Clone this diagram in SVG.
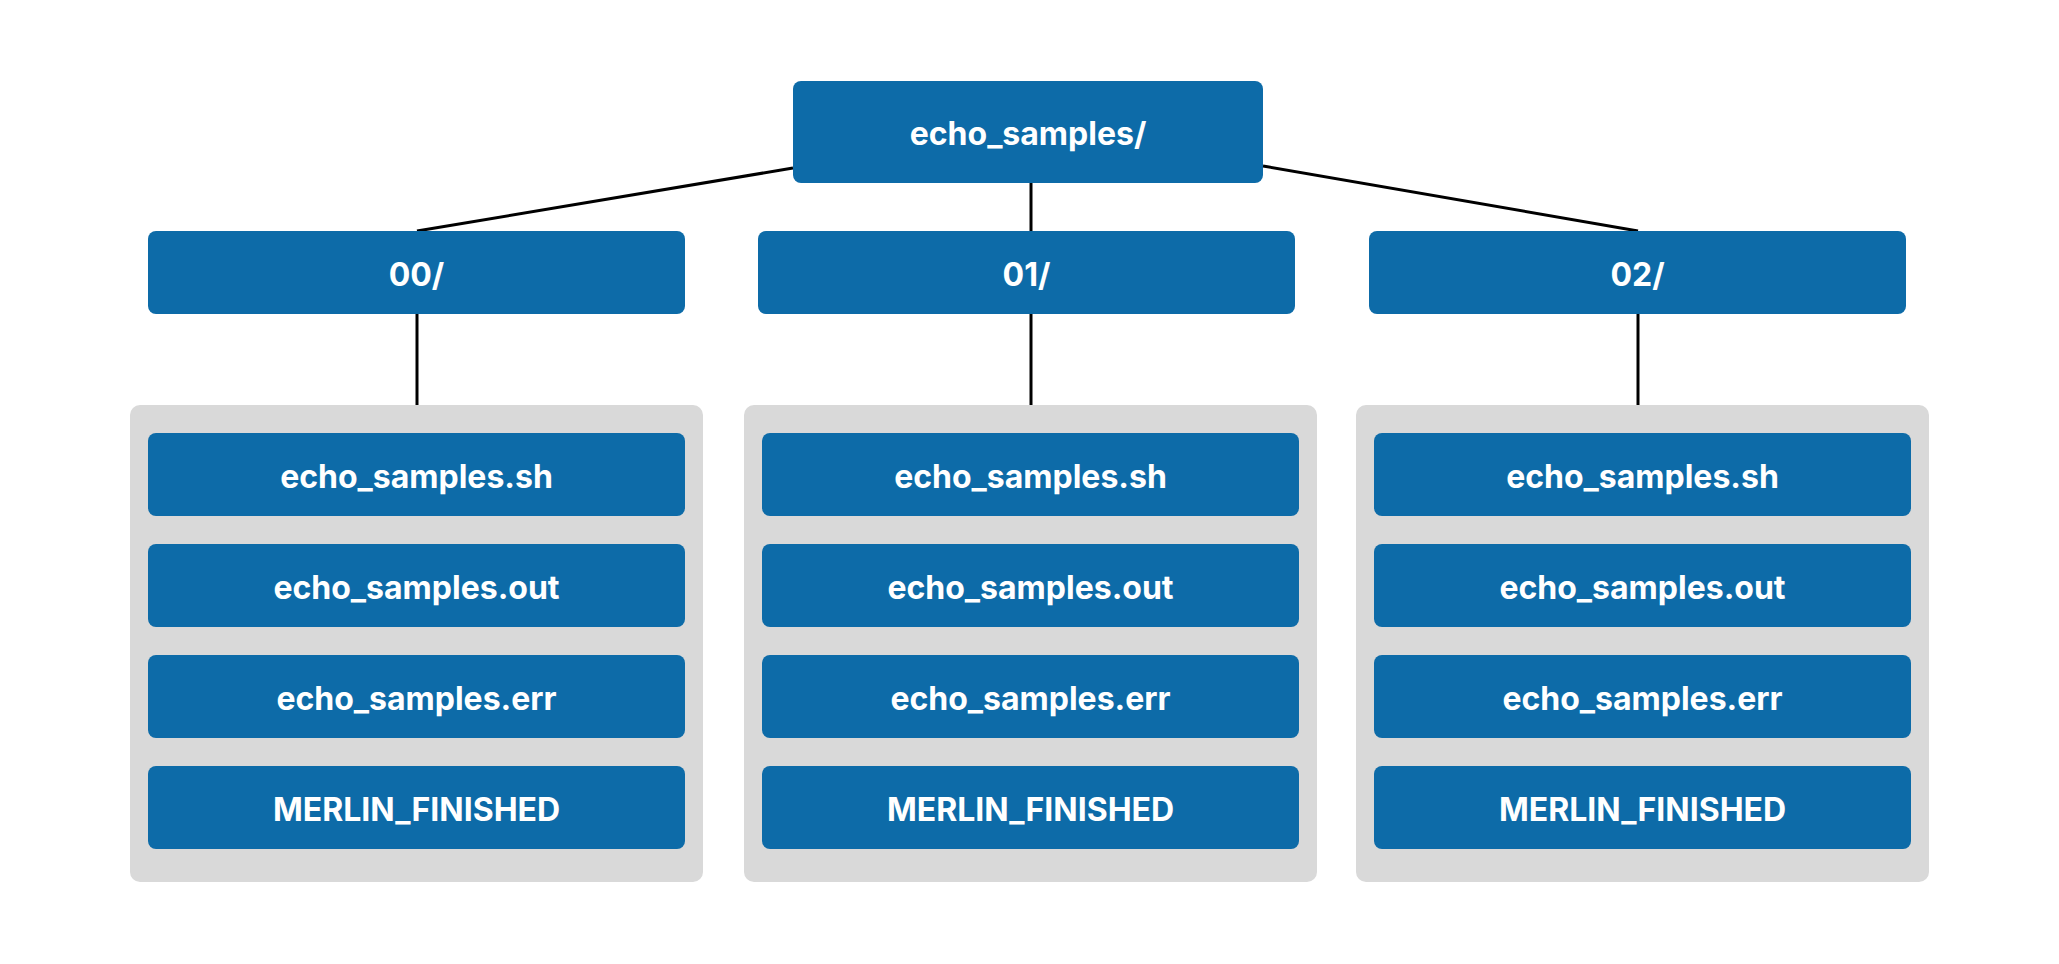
<svg xmlns="http://www.w3.org/2000/svg" width="2059" height="964" viewBox="0 0 2059 964">
<style>
.node{fill:#0D6BA8;}
.grp{fill:#D9D9D9;}
.lbl{fill:#FFFFFF;font-family:Inter,"Liberation Sans",sans-serif;font-weight:700;font-size:32px;text-anchor:middle;dominant-baseline:central;}
.edge{stroke:#000000;stroke-width:3;fill:none;}
</style>
<rect width="2059" height="964" fill="#FFFFFF"/>
<g id="connectors">
<line class="edge" x1="793" y1="168" x2="417" y2="231"/>
<line class="edge" x1="1031" y1="183" x2="1031" y2="231"/>
<line class="edge" x1="1263" y1="166" x2="1638" y2="231"/>
<line class="edge" x1="417" y1="314" x2="417" y2="405"/>
<line class="edge" x1="1031" y1="314" x2="1031" y2="405"/>
<line class="edge" x1="1638" y1="314" x2="1638" y2="405"/>
</g>
<g id="root">
<rect class="node" x="793" y="81" width="470" height="102" rx="8"/>
<text class="lbl" x="1028" y="133.5">echo_samples/</text>
</g>
<g id="dir00">
<rect class="node" x="148" y="231" width="537" height="83" rx="8"/>
<text class="lbl" x="416.5" y="274">00/</text>
</g>
<g id="dir01">
<rect class="node" x="758" y="231" width="537" height="83" rx="8"/>
<text class="lbl" x="1026.5" y="274">01/</text>
</g>
<g id="dir02">
<rect class="node" x="1369" y="231" width="537" height="83" rx="8"/>
<text class="lbl" x="1637.5" y="274">02/</text>
</g>
<g id="group00">
<rect class="grp" x="130" y="405" width="573" height="477" rx="10"/>
<g id="g00-sh"><rect class="node" x="148" y="433" width="537" height="83" rx="8"/><text class="lbl" x="416.5" y="476">echo_samples.sh</text></g>
<g id="g00-out"><rect class="node" x="148" y="544" width="537" height="83" rx="8"/><text class="lbl" x="416.5" y="587">echo_samples.out</text></g>
<g id="g00-err"><rect class="node" x="148" y="655" width="537" height="83" rx="8"/><text class="lbl" x="416.5" y="698">echo_samples.err</text></g>
<g id="g00-fin"><rect class="node" x="148" y="766" width="537" height="83" rx="8"/><text class="lbl" x="416.5" y="809">MERLIN_FINISHED</text></g>
</g>
<g id="group01">
<rect class="grp" x="744" y="405" width="573" height="477" rx="10"/>
<g id="g01-sh"><rect class="node" x="762" y="433" width="537" height="83" rx="8"/><text class="lbl" x="1030.5" y="476">echo_samples.sh</text></g>
<g id="g01-out"><rect class="node" x="762" y="544" width="537" height="83" rx="8"/><text class="lbl" x="1030.5" y="587">echo_samples.out</text></g>
<g id="g01-err"><rect class="node" x="762" y="655" width="537" height="83" rx="8"/><text class="lbl" x="1030.5" y="698">echo_samples.err</text></g>
<g id="g01-fin"><rect class="node" x="762" y="766" width="537" height="83" rx="8"/><text class="lbl" x="1030.5" y="809">MERLIN_FINISHED</text></g>
</g>
<g id="group02">
<rect class="grp" x="1356" y="405" width="573" height="477" rx="10"/>
<g id="g02-sh"><rect class="node" x="1374" y="433" width="537" height="83" rx="8"/><text class="lbl" x="1642.5" y="476">echo_samples.sh</text></g>
<g id="g02-out"><rect class="node" x="1374" y="544" width="537" height="83" rx="8"/><text class="lbl" x="1642.5" y="587">echo_samples.out</text></g>
<g id="g02-err"><rect class="node" x="1374" y="655" width="537" height="83" rx="8"/><text class="lbl" x="1642.5" y="698">echo_samples.err</text></g>
<g id="g02-fin"><rect class="node" x="1374" y="766" width="537" height="83" rx="8"/><text class="lbl" x="1642.5" y="809">MERLIN_FINISHED</text></g>
</g>
</svg>
